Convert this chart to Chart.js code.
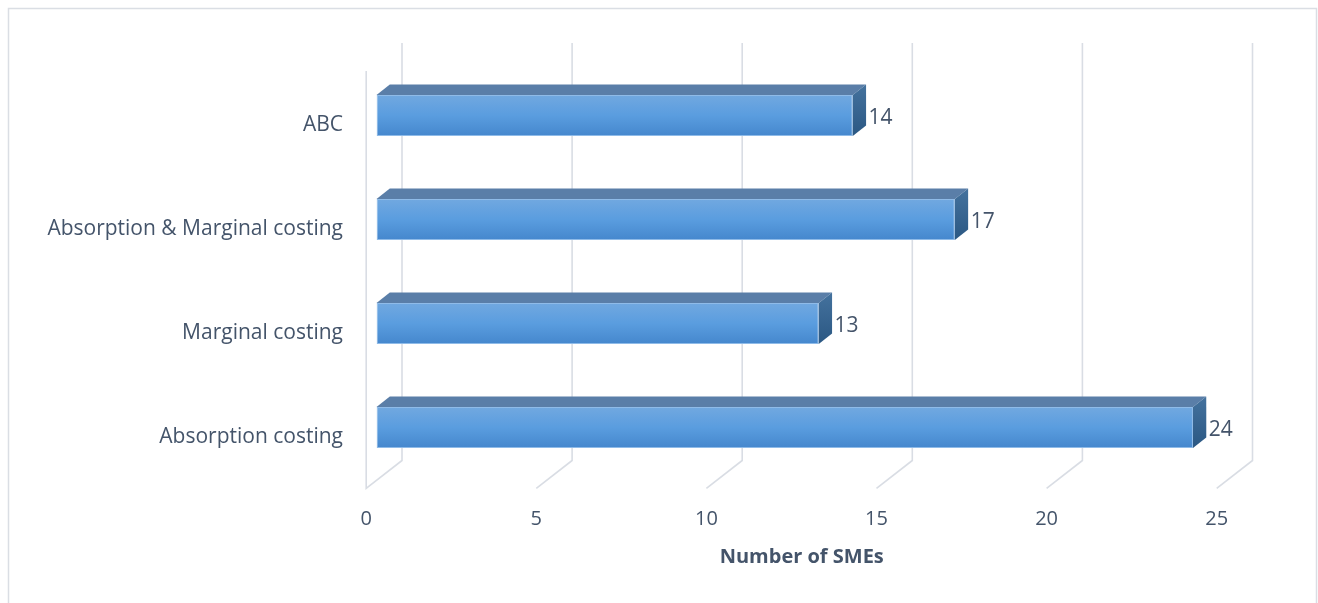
<!DOCTYPE html>
<html>
<head>
<meta charset="utf-8">
<script src="https://cdn.jsdelivr.net/npm/chart.js@4/dist/chart.umd.min.js"></script>
<style>
  html, body { margin: 0; padding: 0; background: #ffffff; }
  #wrap { position: relative; width: 1318px; height: 603px; }
</style>
</head>
<body>
<div id="wrap"><canvas id="c" width="1318" height="603"></canvas></div>
<script>
// ---- data ----
const categories = ["ABC", "Absorption & Marginal costing", "Marginal costing", "Absorption costing"];
const smeCounts = [14, 17, 13, 24];
const xTickValues = [0, 5, 10, 15, 20, 25];
const xAxisTitle = "Number of SMEs";

// ---- styles ----
const TEXT = "#44546a";
const FONT = "'Open Sans', 'Liberation Sans', sans-serif";
const GRID = "#d9dde4";
const DEPTH = { barDx: 13.3, barDy: 10.6, floorFront: 10.3, floorFrontDy: 8.8, backDx: 25.5, backTop: 20.5, backBottom: 19 };

const threeD = {
  id: "threeD",
  beforeDraw(chart) {
    const ctx = chart.ctx;
    ctx.save();
    ctx.fillStyle = "#ffffff";
    ctx.fillRect(0, 0, chart.width, chart.height);
    ctx.strokeStyle = "#dadee4";
    ctx.lineWidth = 1.5;
    ctx.strokeRect(8.5, 8.5, chart.width - 10, chart.height + 20);
    ctx.restore();
  },
  beforeDatasetsDraw(chart) {
    const ctx = chart.ctx, xs = chart.scales.x, ca = chart.chartArea;
    ctx.save();
    ctx.strokeStyle = GRID;
    ctx.lineWidth = 1.6;
    xs.ticks.forEach((t, i) => {
      const px = xs.getPixelForValue(t.value);
      const bx = px + DEPTH.backDx, fx = px - DEPTH.floorFront;
      ctx.beginPath();
      ctx.moveTo(bx, ca.top - DEPTH.backTop);
      ctx.lineTo(bx, ca.bottom - DEPTH.backBottom);
      ctx.lineTo(fx, ca.bottom + DEPTH.floorFrontDy);
      if (i === 0) {
        ctx.lineTo(fx, ca.top + 7.5);
      }
      ctx.stroke();
    });
    ctx.restore();
  },
  afterDatasetsDraw(chart) {
    const ctx = chart.ctx;
    const meta = chart.getDatasetMeta(0);
    ctx.save();
    meta.data.forEach((el, i) => {
      const x0 = el.base, x1 = el.x;
      const top = el.y - el.height / 2, bot = el.y + el.height / 2;
      if (![x0, x1, top, bot].every(Number.isFinite)) return;
      const dx = DEPTH.barDx, dy = DEPTH.barDy;
      // top face
      ctx.beginPath();
      ctx.moveTo(x0, top);
      ctx.lineTo(x0 + dx, top - dy);
      ctx.lineTo(x1 + dx, top - dy);
      ctx.lineTo(x1, top);
      ctx.closePath();
      ctx.fillStyle = "#5a7ea8";
      ctx.fill();
      // side face
      const g = ctx.createLinearGradient(0, top - dy, 0, bot);
      g.addColorStop(0, "#44729e");
      g.addColorStop(1, "#2b5883");
      ctx.beginPath();
      ctx.moveTo(x1, top);
      ctx.lineTo(x1 + dx, top - dy);
      ctx.lineTo(x1 + dx, bot - dy);
      ctx.lineTo(x1, bot);
      ctx.closePath();
      ctx.fillStyle = g;
      ctx.fill();
      // value label
      ctx.fillStyle = TEXT;
      ctx.font = "21px " + FONT;
      ctx.textAlign = "left";
      ctx.textBaseline = "middle";
      ctx.fillText(String(smeCounts[i]), x1 + dx + 2.5, el.y + 3);
    });
    ctx.restore();
  }
};

new Chart(document.getElementById("c"), {
  type: "bar",
  data: {
    labels: categories,
    datasets: [{
      data: smeCounts,
      backgroundColor: (c) => {
        const chart = c.chart, ys = chart.scales && chart.scales.y;
        if (!ys || c.dataIndex == null) return "#5b9bd5";
        const yc = ys.getPixelForValue(c.dataIndex);
        const half = (ys.height / categories.length) * 0.394 / 2;
        if (!Number.isFinite(yc) || !Number.isFinite(half) || half <= 0) return "#5b9bd5";
        const g = chart.ctx.createLinearGradient(0, yc - half, 0, yc + half);
        g.addColorStop(0, "#71a8e0");
        g.addColorStop(0.5, "#5a9ddf");
        g.addColorStop(1, "#4587cd");
        return g;
      },
      borderColor: "#8fbbe8",
      borderWidth: 1,
      borderSkipped: false,
      barPercentage: 0.394,
      categoryPercentage: 1
    }]
  },
  options: {
    indexAxis: "y",
    responsive: false,
    animation: false,
    layout: { padding: { top: 63.5, right: 91, bottom: 0, left: 0 } },
    plugins: { legend: { display: false }, tooltip: { enabled: false } },
    scales: {
      y: {
        grid: { display: false, drawTicks: false },
        border: { display: false },
        ticks: { color: TEXT, font: { family: FONT, size: 21 }, padding: 33.5, labelOffset: 10 },
        afterFit: (s) => { s.width = 376.5; }
      },
      x: {
        min: 0, max: 25,
        afterBuildTicks: (s) => { s.ticks = xTickValues.map(v => ({ value: v })); },
        grid: { display: false, drawTicks: false },
        border: { display: false },
        ticks: { color: TEXT, font: { family: FONT, size: 20 }, padding: 28, labelOffset: -10.3, maxRotation: 0 },
        title: { display: true, text: xAxisTitle, color: TEXT, font: { family: FONT, size: 20, weight: "bold" }, padding: { top: 0, bottom: 34 } },
        afterFit: (s) => { s.height = 123.5; }
      }
    }
  },
  plugins: [threeD]
});
</script>
</body>
</html>
